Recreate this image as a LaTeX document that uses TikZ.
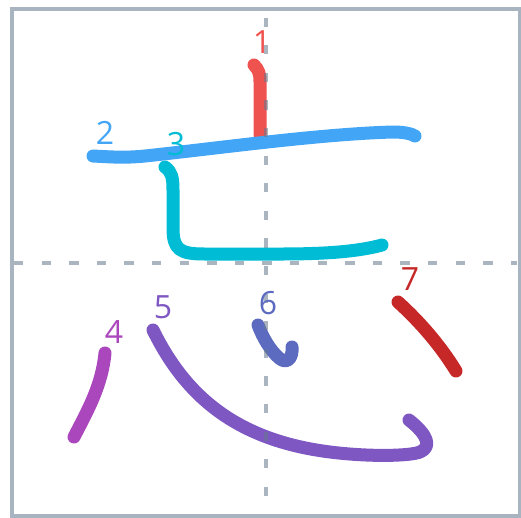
\documentclass[tikz,border=0pt]{standalone}
\usepackage{fontspec}
\setmainfont{Open Sans}
\usepackage{tikz}
\usetikzlibrary{positioning}
\definecolor{gridcol}{RGB}{168,180,192}
\definecolor{guidecol}{RGB}{100,120,140}
\definecolor{strokeA}{RGB}{239,83,80}
\definecolor{strokeB}{RGB}{66,165,245}
\definecolor{strokeC}{RGB}{0,188,212}
\definecolor{strokeD}{RGB}{171,71,188}
\definecolor{strokeE}{RGB}{126,87,194}
\definecolor{strokeF}{RGB}{92,107,192}
\definecolor{strokeG}{RGB}{198,40,40}
\tikzset{
  frame/.style={draw=gridcol,line width=4},
  guide/.style={draw=guidecol,opacity=.55,line width=4,dash pattern=on 9.3 off 18.3},
  brush/.style={line width=13,line cap=round,line join=round},
  num/.style={inner sep=0pt,font=\fontsize{32}{32}\selectfont},
}

\begin{document}
\begin{tikzpicture}[x=1pt,y=-1pt]
  \useasboundingbox (0,0) rectangle (521,517);
  \draw[frame] (12,9) rectangle (519.5,515.5);
  % strokes in writing order
  \draw[brush,strokeA] (254,65) .. controls (259,70) and (260,74) .. (260,82) -- (260,135);
  \draw[brush,strokeB] (93,156) .. controls (112,157) and (125,158) .. (145,156)
    .. controls (220,148) and (320,134) .. (393,132) .. controls (405,132) and (412,134) .. (415,136);
  \draw[brush,strokeC] (165,167) .. controls (172,172) and (173,178) .. (173,190) -- (173,228)
    .. controls (173,250) and (180,254) .. (205,254) -- (280,254)
    .. controls (330,254) and (360,251) .. (382,245);
  \draw[brush,strokeD] (105,353) .. controls (102,385) and (88,410) .. (74,437);
  \draw[brush,strokeE] (153,330) .. controls (185,395) and (235,440) .. (330,452)
    .. controls (370,457) and (410,456) .. (420,452) .. controls (432,447) and (428,435) .. (409,420);
  \draw[brush,strokeF] (258,325) .. controls (263,338) and (270,350) .. (279,358)
    .. controls (287,365) and (293,358) .. (292,347);
  \draw[brush,strokeG] (398,302) .. controls (420,322) and (440,345) .. (456,371);
  % guides
  \draw[guide] (14,263) -- (517,263);
  \draw[guide] (266,17.5) -- (266,513);
  \node[num,text=strokeA] (n1) at (262,42) {1};
  \node[num,text=strokeB] (n2) at (105,133) {2};
  \node[num,text=strokeC] (n3) at (176,144) {3};
  \node[num,text=strokeD] (n4) at (114,332) {4};
  \node[num,text=strokeE] (n5) at (163,307) {5};
  \node[num,text=strokeF] (n6) at (268,303) {6};
  \node[num,text=strokeG] (n7) at (410,279) {7};
\end{tikzpicture}
\end{document}
